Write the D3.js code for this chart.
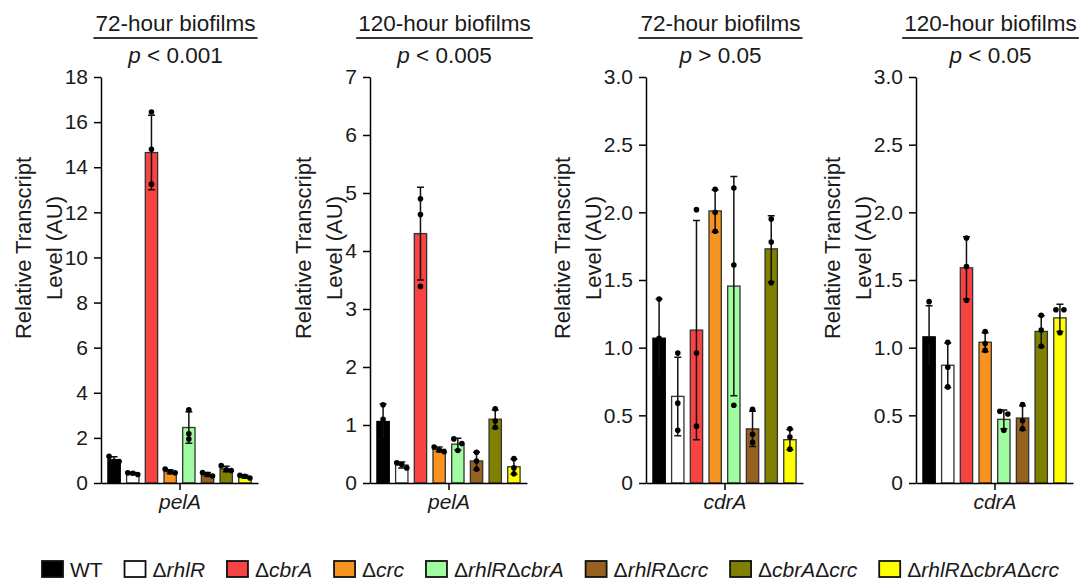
<!DOCTYPE html>
<html>
<head>
<meta charset="utf-8">
<script src="https://cdn.jsdelivr.net/npm/d3@7"></script>
<style>
  body { margin: 0; background: #fff; }
  text { font-family: "Liberation Sans", Arial, sans-serif; fill: #1a1a1a; }
</style>
</head>
<body>
<svg id="chart"></svg>
<script>
var strains = ["WT", "ΔrhlR", "ΔcbrA", "Δcrc", "ΔrhlRΔcbrA", "ΔrhlRΔcrc", "ΔcbrAΔcrc", "ΔrhlRΔcbrAΔcrc"];
var colors = ["#000000", "#ffffff", "#f94242", "#f7931e", "#a0fca0", "#96601f", "#808000", "#ffff00"];

// pelA, 72-hour biofilms
var pelA72Mean = [1.03, 0.42, 14.65, 0.50, 2.46, 0.38, 0.62, 0.28];
var pelA72Sd = [0.13, 0.04, 1.65, 0.09, 0.70, 0.08, 0.12, 0.07];
var pelA72Points = [[1.18, 0.96, 0.95], [0.45, 0.43, 0.38], [16.45, 14.8, 13.25], [0.62, 0.50, 0.45],
                    [3.25, 2.18, 1.95], [0.46, 0.38, 0.31], [0.77, 0.59, 0.55], [0.34, 0.30, 0.22]];

// pelA, 120-hour biofilms
var pelA120Mean = [1.06, 0.31, 4.30, 0.58, 0.67, 0.38, 1.10, 0.28];
var pelA120Sd = [0.30, 0.05, 0.80, 0.04, 0.10, 0.15, 0.16, 0.13];
var pelA120Points = [[1.35, 1.10, 0.73], [0.35, 0.32, 0.26], [4.90, 4.63, 3.39], [0.62, 0.57, 0.54],
                     [0.76, 0.68, 0.56], [0.53, 0.38, 0.24], [1.28, 1.07, 0.96], [0.42, 0.26, 0.16]];

// cdrA, 72-hour biofilms
var cdrA72Mean = [1.07, 0.64, 1.13, 2.01, 1.455, 0.40, 1.73, 0.32];
var cdrA72Sd = [0.29, 0.29, 0.81, 0.155, 0.81, 0.13, 0.245, 0.075];
var cdrA72Points = [[1.36, 1.07, 0.78], [0.96, 0.59, 0.39], [2.02, 0.96, 0.42], [2.17, 2.00, 1.86],
                    [2.18, 1.61, 0.575], [0.545, 0.36, 0.30], [1.95, 1.78, 1.48], [0.40, 0.34, 0.25]];

// cdrA, 120-hour biofilms
var cdrA120Mean = [1.08, 0.87, 1.59, 1.04, 0.47, 0.48, 1.12, 1.22];
var cdrA120Sd = [0.23, 0.165, 0.23, 0.07, 0.07, 0.09, 0.115, 0.10];
var cdrA120Points = [[1.34, 1.05, 0.85], [1.04, 0.855, 0.71], [1.81, 1.60, 1.35], [1.12, 1.03, 0.98],
                     [0.53, 0.51, 0.39], [0.58, 0.46, 0.40], [1.24, 1.13, 1.01], [1.28, 1.28, 1.11]];

var pelTicks = [0, 2, 4, 6, 8, 10, 12, 14, 16, 18];
var pel120Ticks = [0, 1, 2, 3, 4, 5, 6, 7];
var cdrTicks = [0, 0.5, 1.0, 1.5, 2.0, 2.5, 3.0];

var oneDecimal = function(d) { return d === 0 ? "0" : d.toFixed(1); };

var panels = [
    { title: "72-hour biofilms", p: " < 0.001", gene: "pelA", max: 18, ticks: pelTicks, fmt: d3.format("d"),
      mean: pelA72Mean, sd: pelA72Sd, pts: pelA72Points },
    { title: "120-hour biofilms", p: " < 0.005", gene: "pelA", max: 7, ticks: pel120Ticks, fmt: d3.format("d"),
      mean: pelA120Mean, sd: pelA120Sd, pts: pelA120Points },
    { title: "72-hour biofilms", p: " > 0.05", gene: "cdrA", max: 3, ticks: cdrTicks, fmt: oneDecimal,
      mean: cdrA72Mean, sd: cdrA72Sd, pts: cdrA72Points },
    { title: "120-hour biofilms", p: " < 0.05", gene: "cdrA", max: 3, ticks: cdrTicks, fmt: oneDecimal,
      mean: cdrA120Mean, sd: cdrA120Sd, pts: cdrA120Points }
];

var width = 1085, height = 583;
var axisLeft = [101, 370, 646, 916];
var plotW = 157, yTop = 77, yBottom = 483;
var fontSize = 21;

var svg = d3.select("#chart").attr("width", width).attr("height", height);

// spreads overlapping dots sideways the way Prism does
function spread(ys) {
    var idx = ys.map(function(v, i) { return i; }).sort(function(a, b) { return ys[a] - ys[b]; });
    var out = new Array(ys.length).fill(0);
    var groups = [], cur = [idx[0]];
    for (var i = 1; i < idx.length; i++) {
        if (Math.abs(ys[idx[i]] - ys[cur[cur.length - 1]]) < 5) cur.push(idx[i]);
        else { groups.push(cur); cur = [idx[i]]; }
    }
    groups.push(cur);
    groups.forEach(function(g) {
        var offs = g.length === 1 ? [0] : g.length === 2 ? [-4, 4] : [-5, 0, 5];
        g.forEach(function(j, k) { out[j] = offs[k]; });
    });
    return out;
}

panels.forEach(function(p, k) {
    var x0 = axisLeft[k];
    var g = svg.append("g");

    var x = d3.scaleBand().domain(strains).range([x0, x0 + plotW])
        .paddingInner(0.34).paddingOuter(0.37);
    var y = d3.scaleLinear().domain([0, p.max]).range([yBottom, yTop]);

    // bars
    g.selectAll(".bar")
        .data(p.mean)
        .enter()
        .append("rect")
        .attr("class", "bar")
        .attr("x", function(d, i) { return x(strains[i]); })
        .attr("y", function(d) { return y(d); })
        .attr("width", x.bandwidth())
        .attr("height", function(d) { return y(0) - y(d); })
        .attr("fill", function(d, i) { return colors[i]; })
        .attr("stroke", function(d, i) { return i === 0 ? "#000" : "#333"; })
        .attr("stroke-width", 1.3);

    // error bars (mean ± SD)
    var cap = 3.5;
    p.mean.forEach(function(m, i) {
        var cx = x(strains[i]) + x.bandwidth() / 2;
        var lo = y(m - p.sd[i]), hi = y(m + p.sd[i]);
        var path = "M" + cx + "," + lo + "V" + hi +
                   "M" + (cx - cap) + "," + hi + "H" + (cx + cap) +
                   "M" + (cx - cap) + "," + lo + "H" + (cx + cap);
        g.append("path").attr("d", path).attr("fill", "none")
            .attr("stroke", "#111").attr("stroke-width", 1.5);
    });

    // replicate points
    p.pts.forEach(function(vals, i) {
        var cx = x(strains[i]) + x.bandwidth() / 2;
        var ys = vals.map(function(v) { return y(v); });
        var offs = spread(ys);
        g.selectAll(".pt" + i)
            .data(vals)
            .enter()
            .append("circle")
            .attr("cx", function(d, j) { return cx + offs[j]; })
            .attr("cy", function(d) { return y(d); })
            .attr("r", 2.8)
            .attr("fill", "#000");
    });

    // y axis
    var ay = g.append("g")
        .attr("transform", "translate(" + x0 + ",0)")
        .call(d3.axisLeft(y).tickValues(p.ticks).tickFormat(p.fmt)
            .tickSize(7).tickSizeOuter(0).tickPadding(6));
    ay.attr("font-size", fontSize).attr("font-family", null);
    ay.selectAll("path, line").attr("stroke", "#000").attr("stroke-width", 1.5);
    ay.selectAll("text").attr("fill", "#1a1a1a");

    // x axis with a single centred tick
    var xs = d3.scaleLinear().domain([0, 1]).range([x0, x0 + plotW]);
    var ax = g.append("g")
        .attr("transform", "translate(0," + yBottom + ")")
        .call(d3.axisBottom(xs).tickValues([0.5]).tickFormat(function() { return p.gene; })
            .tickSize(7).tickSizeOuter(0).tickPadding(4));
    ax.attr("font-size", fontSize).attr("font-family", null);
    ax.selectAll("path, line").attr("stroke", "#000").attr("stroke-width", 1.5);
    ax.selectAll("text").attr("fill", "#1a1a1a").style("font-style", "italic");

    // y axis title, two lines
    var left = x0 + ay.node().getBBox().x;
    var labelY = 248;
    [["Relative Transcript", left - 34], ["Level (AU)", left - 3]].forEach(function(l) {
        g.append("text")
            .attr("transform", "translate(" + l[1] + "," + labelY + ") rotate(-90)")
            .attr("text-anchor", "middle")
            .attr("font-size", 22)
            .text(l[0]);
    });

    // panel title with underline and p value
    var cxT = x0 + plotW / 2 - 4;
    var t = g.append("text")
        .attr("x", cxT).attr("y", 30.5)
        .attr("text-anchor", "middle")
        .attr("font-size", 22.5)
        .text(p.title);
    var tw = t.node().getComputedTextLength();
    g.append("line")
        .attr("x1", cxT - tw / 2 - 2).attr("x2", cxT + tw / 2 + 2)
        .attr("y1", 38).attr("y2", 38)
        .attr("stroke", "#333").attr("stroke-width", 2);

    var pv = g.append("text")
        .attr("x", cxT).attr("y", 63)
        .attr("text-anchor", "middle")
        .attr("font-size", 22.5);
    pv.append("tspan").style("font-style", "italic").text("p");
    pv.append("tspan").text(p.p);
});

// legend
var legendStart = 42, legendEnd = 1059, legendY = 561;
var swW = 21, swH = 16, swGap = 7;
var items = svg.append("g").selectAll(".legend")
    .data(strains)
    .enter()
    .append("g")
    .attr("class", "legend");

items.append("rect")
    .attr("width", swW).attr("height", swH)
    .attr("y", legendY)
    .attr("fill", function(d, i) { return colors[i]; })
    .attr("stroke", "#111").attr("stroke-width", 1.8);

var labels = items.append("text")
    .attr("x", swW + swGap)
    .attr("y", legendY + 16)
    .attr("font-size", 21);

labels.each(function(d) {
    var el = d3.select(this);
    if (d.indexOf("Δ") < 0) { el.text(d); return; }
    d.split("Δ").forEach(function(part) {
        if (!part) return;
        el.append("tspan").text("Δ");
        el.append("tspan").style("font-style", "italic").text(part);
    });
});

var widths = [];
labels.each(function() { widths.push(swW + swGap + this.getComputedTextLength()); });
var gap = (legendEnd - legendStart - d3.sum(widths)) / (strains.length - 1);
var pos = legendStart;
items.attr("transform", function(d, i) {
    var tx = pos;
    pos += widths[i] + gap;
    return "translate(" + tx + ",0)";
});
</script>
</body>
</html>
